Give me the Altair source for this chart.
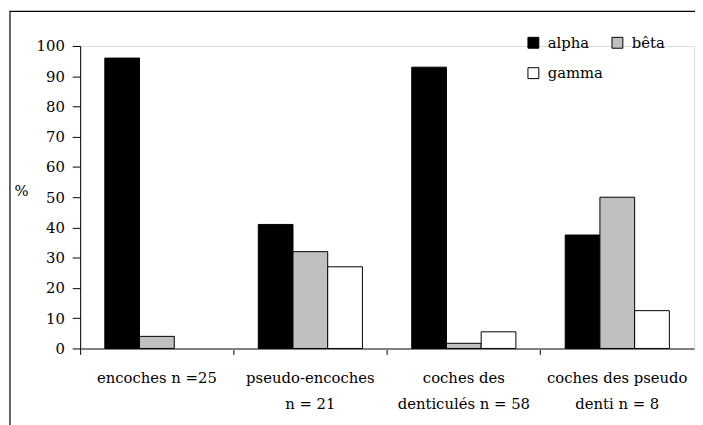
import altair as alt
import pandas as pd

categories = ["encoches n =25", "pseudo-encoches|n = 21", "coches des|denticulés n = 58", "coches des pseudo|denti n = 8"]
series = ["alpha", "bêta", "gamma"]
alpha_vals = [96, 41, 93, 37.5]
beta_vals = [4, 32, 1.7, 50]
gamma_vals = [0, 27, 5.5, 12.5]
colors = ["#000000", "#C0C0C0", "#FFFFFF"]
y_ticks = [0, 10, 20, 30, 40, 50, 60, 70, 80, 90, 100]

rows = []
for i, c in enumerate(categories):
    for s, vals in zip(series, [alpha_vals, beta_vals, gamma_vals]):
        rows.append({"cat": c, "serie": s, "value": vals[i]})
df = pd.DataFrame(rows)

FONT = "DejaVu Serif"
FS = 15

bars = alt.Chart(df).transform_filter("datum.value > 0").mark_bar(
    stroke="black", strokeWidth=1
).encode(
    x=alt.X("cat:N", sort=categories, title=None,
            scale=alt.Scale(paddingInner=0, paddingOuter=0),
            axis=alt.Axis(labelAngle=0, bandPosition=0, labelExpr="split(datum.value, '|')",
                          labelFont=FONT, labelFontSize=FS, labelColor="black",
                          labelLineHeight=27, labelPadding=16, labelLimit=300,
                          domainColor="#808080", domainWidth=2, tickColor="black",
                          tickSize=6, tickWidth=1)),
    xOffset=alt.XOffset("serie:N", sort=series,
                        scale=alt.Scale(paddingInner=0, paddingOuter=0.71)),
    y=alt.Y("value:Q", scale=alt.Scale(domain=[0, 100], nice=False),
            axis=alt.Axis(values=y_ticks, title="%", titleAngle=0, titleAlign="left",
                          titleBaseline="middle", titleX=-67, titleY=146,
                          titleFont=FONT, titleFontSize=FS, titleFontWeight="normal",
                          titleColor="#000000",
                          labelFont=FONT, labelFontSize=FS, labelColor="black",
                          labelPadding=8, grid=False, domainColor="black",
                          tickColor="black", tickSize=8)),
    color=alt.Color("serie:N", sort=series,
                    scale=alt.Scale(domain=series, range=colors),
                    legend=alt.Legend(title=None, orient="none", legendX=451, legendY=-11,
                                      direction="horizontal",
                                      columns=2, symbolType="square", symbolSize=121,
                                      symbolStrokeColor="black", symbolStrokeWidth=1,
                                      labelFont=FONT, labelFontSize=FS, labelColor="black",
                                      labelOffset=7, columnPadding=7, rowPadding=15,
                                      padding=0)),
)

frame = alt.Chart(pd.DataFrame({"a": [0]})).mark_rect(
    fill="transparent", stroke="black", strokeWidth=1.2
).encode(
    x=alt.value(-71), x2=alt.value(700), y=alt.value(-35), y2=alt.value(420)
)

chart = alt.layer(frame, bars).properties(
    width=621, height=306,
    autosize=alt.AutoSizeParams(type="none"),
    padding={"left": 73, "top": 36, "right": 1, "bottom": 75},
).configure_view(stroke=None).configure(background="white", font=FONT)

chart.save("out.html", embed_options={"renderer": "svg", "actions": False})
